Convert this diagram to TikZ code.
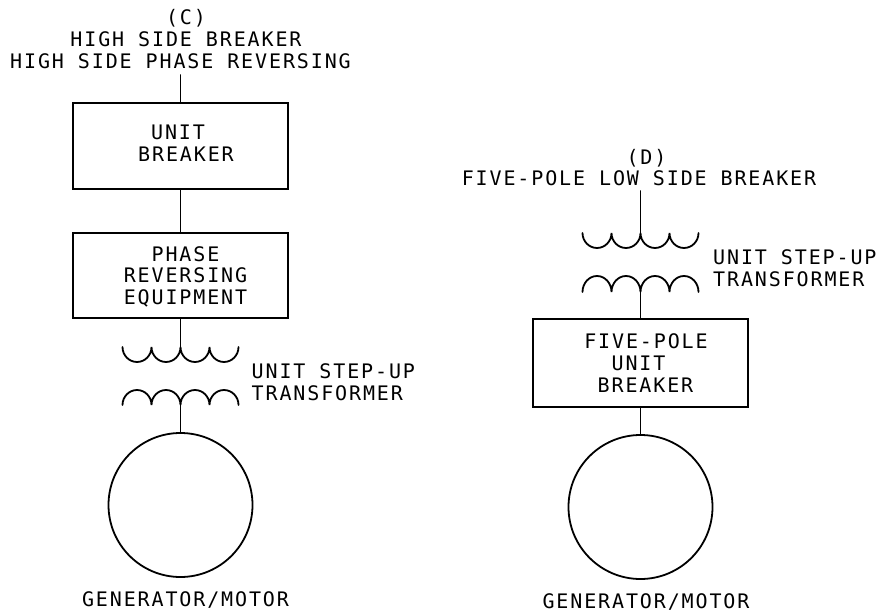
\documentclass[tikz,border=0pt]{standalone}
\usepackage{fontspec}
\setmainfont{DejaVu Sans Mono}[LetterSpace=9.4]
\newcommand{\sft}[2]{\hspace*{#1pt}\hspace*{#1pt}#2}
\tikzset{
 txt/.style={font=\fontsize{20}{21.8}\selectfont},
 lbl/.style={txt,inner sep=0pt,align=center},
 lbll/.style={txt,inner sep=0pt,align=left},
 boxn/.style={txt,draw,line width=1.8pt,inner sep=0pt,align=center,minimum width=215pt},
 wire/.style={line width=1.8pt},
 mach/.style={draw,circle,line width=1.8pt,inner sep=0pt,minimum size=144pt}
}
\begin{document}
\begin{tikzpicture}[x=1pt,y=-1pt,line cap=round]
\useasboundingbox (0,0) rectangle (881,612);
% left column
\node[lbl] (c) at (180.5,39) {\sft{5.5}{(C)}\\\sft{5.5}{HIGH SIDE BREAKER}\\HIGH SIDE PHASE REVERSING};
\node[boxn,minimum height=86pt,label={[lbl,yshift=3pt]center:{\sft{-2.5}{UNIT}\\\sft{5.5}{BREAKER}}}] (b1) at (180.5,146) {};
\node[boxn,minimum height=85pt,label={[lbl,yshift=-1.2pt]center:{\sft{5}{PHASE}\\\sft{5}{REVERSING}\\\sft{5}{EQUIPMENT}}}] (b2) at (180.5,275.5) {};
\coordinate (c0) at (180.5,75);
\draw[wire] (c0) -- (b1.north);
\draw[wire] (b1.south) -- (b2.north);
\coordinate (t1) at (180.5,347);
\coordinate (t2) at (180.5,405);
\draw[wire] (b2.south) -- (t1);
\draw[wire] (122.5,347) arc (180:360:14.5 and -15) arc (180:360:14.5 and -15) arc (180:360:14.5 and -15) arc (180:360:14.5 and -15);
\draw[wire] (122.5,405) arc (180:0:14.5 and -15) arc (180:0:14.5 and -15) arc (180:0:14.5 and -15) arc (180:0:14.5 and -15);
\node[mach] (g1) at (180.5,505) {};
\draw[wire] (t2) -- (g1.north);
\node[lbll,anchor=west] (u1) at (251.5,382) {UNIT STEP-UP\\TRANSFORMER};
\node[lbl] (gm1) at (185.5,600.5) {GENERATOR/MOTOR};
% right column
\node[lbl] (d) at (639,167.5) {\sft{7.5}{(D)}\\FIVE-POLE LOW SIDE BREAKER};
\coordinate (d0) at (640.5,191);
\coordinate (t3) at (640.5,235);
\coordinate (t4) at (640.5,292);
\draw[wire] (d0) -- (t3);
\draw[wire] (582.5,233) arc (180:360:14.5 and -15) arc (180:360:14.5 and -15) arc (180:360:14.5 and -15) arc (180:360:14.5 and -15);
\draw[wire] (582.5,292) arc (180:0:14.5 and -16) arc (180:0:14.5 and -16) arc (180:0:14.5 and -16) arc (180:0:14.5 and -16);
\node[boxn,minimum height=88pt] (b3) at (640.5,363) {\sft{5.5}{FIVE-POLE}\\\sft{-2}{UNIT}\\\sft{5}{BREAKER}};
\draw[wire] (t4) -- (b3.north);
\node[mach] (g2) at (640.5,507) {};
\draw[wire] (b3.south) -- (g2.north);
\node[lbll,anchor=west] (u2) at (713,268) {UNIT STEP-UP\\TRANSFORMER};
\node[lbl] (gm2) at (646,602) {GENERATOR/MOTOR};
\end{tikzpicture}
\end{document}
